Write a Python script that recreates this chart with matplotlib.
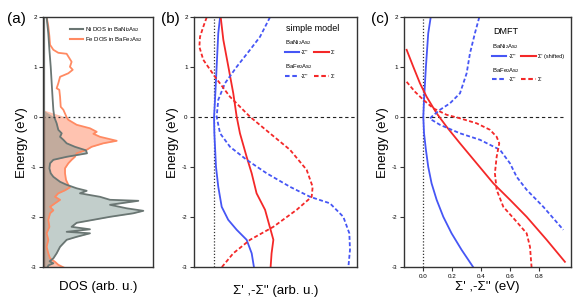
import matplotlib
matplotlib.use("Agg")
import matplotlib.pyplot as plt
from matplotlib.lines import Line2D
import numpy as np

plt.rcParams['font.family'] = ['Liberation Sans', 'DejaVu Sans']
plt.rcParams['mathtext.default'] = 'regular'
plt.rcParams['axes.unicode_minus'] = False

# ---------------- data ----------------
# Panel (a): DOS (arb. u.) vs energy
ni_E = [2.0, 1.68, 1.62, 1.35, 1.01, 0.68, 0.35, 0.15, 0.0, -0.12, -0.25, -0.32, -0.39, -0.45, -0.52,
        -0.59, -0.66, -0.72, -0.79, -0.85, -0.92, -1.02, -1.12, -1.19, -1.29, -1.35, -1.42, -1.47,
        -1.52, -1.59, -1.65, -1.67, -1.75, -1.82, -1.87, -1.92, -1.99, -2.05, -2.11, -2.19, -2.24,
        -2.29, -2.32, -2.39, -2.45, -2.59, -2.72, -2.82, -2.88, -2.92, -2.96, -3.0]
ni_dos = [0.033, 0.048, 0.05, 0.058, 0.07, 0.079, 0.088, 0.094, 0.103, 0.124, 0.139, 0.17, 0.155,
          0.185, 0.215, 0.29, 0.39, 0.40, 0.215, 0.094, 0.064, 0.058, 0.07, 0.094, 0.155, 0.215,
          0.306, 0.397, 0.336, 0.518, 0.609, 0.867, 0.609, 0.76, 0.912, 0.82, 0.609, 0.458, 0.306,
          0.26, 0.427, 0.215, 0.427, 0.306, 0.215, 0.155, 0.124, 0.094, 0.06, 0.094, 0.05, 0.04]
fe_E = [2.0, 1.82, 1.62, 1.45, 1.35, 1.29, 1.27, 1.11, 1.01, 0.95, 0.88, 0.81, 0.68, 0.58, 0.55,
        0.41, 0.21, 0.15, 0.0, -0.05, -0.15, -0.22, -0.29, -0.33, -0.39, -0.47, -0.52, -0.59,
        -0.65, -0.72, -0.79, -0.85, -0.92, -1.02, -1.12, -1.25, -1.35, -1.40, -1.46, -1.52, -1.59,
        -1.65, -1.72, -1.79, -1.86, -1.92, -2.05, -2.19, -2.32, -2.45, -2.59, -2.72, -2.82, -2.89,
        -2.95, -3.0]
fe_dos = [0.034, 0.048, 0.058, 0.064, 0.094, 0.139, 0.215, 0.26, 0.245, 0.27, 0.23, 0.155, 0.139,
          0.124, 0.148, 0.155, 0.161, 0.185, 0.215, 0.23, 0.306, 0.427, 0.488, 0.458, 0.518, 0.67,
          0.548, 0.442, 0.397, 0.306, 0.29, 0.26, 0.23, 0.20, 0.20, 0.209, 0.23, 0.245, 0.2, 0.139,
          0.109, 0.155, 0.109, 0.064, 0.094, 0.064, 0.048, 0.058, 0.033, 0.048, 0.033, 0.048,
          0.064, 0.109, 0.139, 0.185]

# Panel (b): simple model (arb. u.)
b_ni_im_E = [2.0, 1.68, 1.01, 0.35, 0.0, -0.32, -0.99, -1.39, -1.79, -2.05, -2.25, -2.45, -2.72, -3.0]
b_ni_im = [0.16, 0.149, 0.139, 0.129, 0.123, 0.125, 0.135, 0.149, 0.17, 0.21, 0.262, 0.323, 0.354, 0.368]
b_ni_re_E = [2.0, 1.55, 1.01, 0.48, 0.01, -0.32, -0.79, -1.12, -1.52, -1.85, -2.32, -2.45, -2.72, -3.0]
b_ni_re = [0.164, 0.18, 0.211, 0.241, 0.262, 0.282, 0.323, 0.354, 0.384, 0.436, 0.476, 0.487, 0.476, 0.47]
b_fe_im_E = [2.0, 1.61, 1.35, 1.01, 0.68, 0.35, 0.01, -0.32, -0.59, -0.85, -1.12, -1.39, -1.59,
             -1.72, -1.99, -2.32, -2.65, -3.0]
b_fe_im = [0.466, 0.405, 0.344, 0.262, 0.19, 0.149, 0.139, 0.16, 0.221, 0.323, 0.446, 0.589, 0.712,
           0.834, 0.916, 0.953, 0.957, 0.947]
b_fe_re_E = [2.0, 1.81, 1.61, 1.41, 1.15, 0.81, 0.41, 0.01, -0.32, -0.65, -1.05, -1.39, -1.59,
             -1.85, -2.19, -2.45, -2.72, -3.0]
b_fe_re = [0.078, 0.057, 0.037, 0.033, 0.057, 0.129, 0.221, 0.344, 0.466, 0.589, 0.691, 0.728,
           0.722, 0.63, 0.487, 0.344, 0.241, 0.17]

# Panel (c): DMFT (eV)
c_ni_im_E = [2.0, 1.68, 1.01, 0.35, 0.01, -0.32, -0.65, -0.99, -1.32, -1.65, -1.99, -2.32, -2.65, -3.0]
c_ni_im = [0.051, 0.034, 0.018, 0.005, 0.0, 0.005, 0.018, 0.034, 0.057, 0.092, 0.138, 0.195, 0.264, 0.345]
c_ni_re_E = [1.35, 1.01, 0.68, 0.41, 0.08, -0.19, -0.52, -0.92, -1.32, -1.65, -1.99, -2.45, -2.89]
c_ni_re = [-0.115, -0.069, -0.023, 0.023, 0.092, 0.161, 0.253, 0.368, 0.483, 0.598, 0.713, 0.851, 0.977]
c_fe_im_E = [2.0, 1.68, 1.28, 0.88, 0.48, 0.28, 0.15, 0.01, -0.03, -0.15, -0.32, -0.45, -0.65,
             -0.92, -1.19, -1.45, -1.79, -2.25]
c_fe_im = [0.386, 0.356, 0.322, 0.299, 0.253, 0.184, 0.115, 0.057, 0.046, 0.115, 0.253, 0.391,
           0.529, 0.598, 0.644, 0.713, 0.828, 0.966]
c_fe_re_E = [0.71, 0.51, 0.35, 0.18, 0.05, -0.02, -0.12, -0.25, -0.39, -0.52, -0.79, -1.12,
             -1.45, -1.79, -2.05, -2.32, -2.59, -3.0]
c_fe_re = [-0.115, -0.057, 0.0, 0.069, 0.161, 0.253, 0.368, 0.46, 0.506, 0.524, 0.506, 0.494,
           0.506, 0.552, 0.632, 0.713, 0.736, 0.747]

yticks = [2, 1, 0, -1, -2, -3]
c_xticks = [0.0, 0.2, 0.4, 0.6, 0.8]
c_xticklabels = ['0.0', '0.2', '0.4', '0.6', '0.8']

# ---------------- style ----------------
BLUE = '#4656f5'
RED = '#f42828'
NI_LINE = '#6a7673'
FE_LINE = '#ff8a62'
SPINE = '#333333'
LW = 1.3
DASH = (2.2, 1.3)

fig = plt.figure(figsize=(5.82, 3.04), dpi=100)
bottom, height = 0.1207, 0.8224
ax_a = fig.add_axes([0.0739, bottom, 0.189, height])
ax_b = fig.add_axes([0.3333, bottom, 0.2801, height])
ax_c = fig.add_axes([0.6942, bottom, 0.2869, height])

for ax in (ax_a, ax_b, ax_c):
    ax.set_ylim(-3, 2)
    ax.set_yticks(yticks)
    ax.set_yticklabels([str(t) for t in yticks])
    for s in ax.spines.values():
        s.set_color(SPINE)
        s.set_linewidth(1.0)
    ax.tick_params(axis='y', direction='out', length=3, width=0.8, labelsize=4.5, pad=1.5, color=SPINE)
    ax.set_ylabel('Energy (eV)', fontsize=9.5, labelpad=2)

# ---- panel a ----
ax_a.set_xlim(0, 1)
ax_a.set_xticks([])
ni_E_a = np.array(ni_E); fe_E_a = np.array(fe_E)
ax_a.fill_betweenx(fe_E_a, 0, fe_dos, where=fe_E_a <= 0, color='#ffc3b0', lw=0, interpolate=True)
ax_a.plot(fe_dos, fe_E, color=FE_LINE, lw=LW)
ax_a.fill_betweenx(ni_E_a, 0, ni_dos, where=ni_E_a <= 0, color='#6e8c84', alpha=0.42, lw=0, interpolate=True)
ax_a.plot(ni_dos, ni_E, color=NI_LINE, lw=LW)
ax_a.plot([0, 0.73], [0, 0], color='#333333', lw=0.9, ls=(0, (1.5, 2.5)))
ax_a.axvline(0.012, color='#7a7a78', lw=1.6)
ax_a.plot([0.012, 0.012], [-3, 0], color='#8a6f66', lw=1.6)
ax_a.set_xlabel('DOS (arb. u.)', fontsize=9.5, labelpad=10)
leg_a = ax_a.legend(handles=[Line2D([], [], color=NI_LINE, lw=1.5),
                             Line2D([], [], color=FE_LINE, lw=1.5)],
                    labels=['Ni DOS in BaNi$_2$As$_2$', 'Fe DOS in BaFe$_2$As$_2$'],
                    loc='upper left', bbox_to_anchor=(0.21, 0.985), frameon=False,
                    fontsize=4.3, handlelength=2.2, handletextpad=0.4, labelspacing=0.25,
                    borderpad=0.1)

# ---- panel b ----
ax_b.set_xlim(0, 1)
ax_b.set_xticks([])
ax_b.axvline(0.125, color='#333333', lw=0.9, ls=(0, (1, 1.5)))
ax_b.plot([0.027, 0.985], [0, 0], color='#222222', lw=0.8, ls=(0, (3, 2.5)))
ax_b.plot(b_ni_im, b_ni_im_E, color=BLUE, lw=LW)
ax_b.plot(b_ni_re, b_ni_re_E, color=RED, lw=LW)
ax_b.plot(b_fe_im, b_fe_im_E, color=BLUE, lw=LW, dashes=DASH)
ax_b.plot(b_fe_re, b_fe_re_E, color=RED, lw=LW, dashes=DASH)
ax_b.set_xlabel("Σ' ,-Σ'' (arb. u.)", fontsize=9.5, labelpad=13)

# ---- panel c ----
ax_c.set_xlim(-0.133, 1.019)
ax_c.set_xticks(c_xticks)
ax_c.set_xticklabels(c_xticklabels)
ax_c.tick_params(axis='x', direction='out', length=3, width=0.8, labelsize=4.5, pad=2, color=SPINE)
ax_c.axvline(0.0, color='#333333', lw=0.9, ls=(0, (1, 1.5)))
ax_c.plot([-0.115, 0.963], [0, 0], color='#222222', lw=0.8, ls=(0, (3, 2.5)))
ax_c.plot(c_ni_im, c_ni_im_E, color=BLUE, lw=LW)
ax_c.plot(c_ni_re, c_ni_re_E, color=RED, lw=LW)
ax_c.plot(c_fe_im, c_fe_im_E, color=BLUE, lw=LW, dashes=DASH)
ax_c.plot(c_fe_re, c_fe_re_E, color=RED, lw=LW, dashes=DASH)
ax_c.set_xlabel("Σ' ,-Σ'' (eV)", fontsize=9.5, labelpad=1)


def model_legend(ax, title, x0, y0, re_label):
    ax.text(x0, y0, title, transform=ax.transAxes, fontsize=6.5, ha='left', va='top')
    l1 = ax.legend(handles=[Line2D([], [], color=BLUE, lw=1.5), Line2D([], [], color=RED, lw=1.5)],
                   labels=["-Σ''", re_label], title='BaNi$_2$As$_2$', ncol=2,
                   loc='upper left', bbox_to_anchor=(x0 - 0.03, y0 - 0.045), frameon=False,
                   fontsize=4, title_fontsize=4.3, handlelength=2.6, handletextpad=0.4,
                   columnspacing=1.0, borderpad=0.1, alignment='left')
    ax.add_artist(l1)
    l2 = ax.legend(handles=[Line2D([], [], color=BLUE, lw=1.5, dashes=(2.2, 1.3)),
                            Line2D([], [], color=RED, lw=1.5, dashes=(2.2, 1.3))],
                   labels=["-Σ''", "Σ'"], title='BaFe$_2$As$_2$', ncol=2,
                   loc='upper left', bbox_to_anchor=(x0 - 0.03, y0 - 0.14), frameon=False,
                   fontsize=4, title_fontsize=4.3, handlelength=2.6, handletextpad=0.4,
                   columnspacing=1.0, borderpad=0.1, alignment='left')


model_legend(ax_b, 'simple model', 0.565, 0.975, "Σ'")
model_legend(ax_c, 'DMFT', 0.535, 0.96, "Σ' (shifted)")

fig.text(0.012, 0.96, '(a)', fontsize=11, va='top')
fig.text(0.277, 0.96, '(b)', fontsize=11, va='top')
fig.text(0.638, 0.96, '(c)', fontsize=11, va='top')

fig.savefig('out.png', dpi=100)
